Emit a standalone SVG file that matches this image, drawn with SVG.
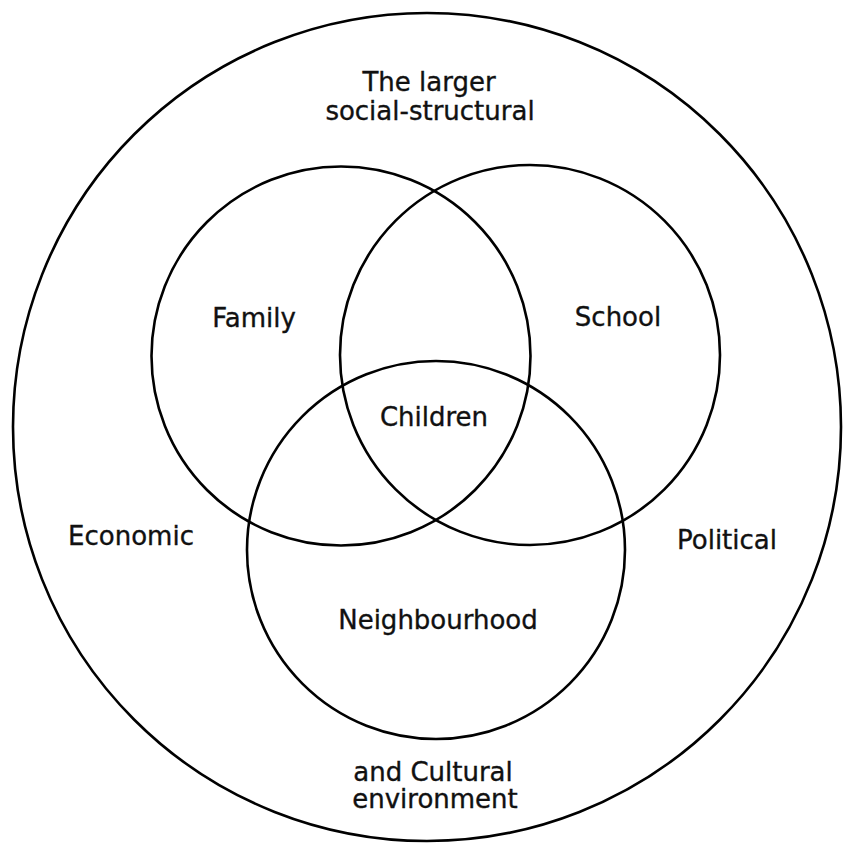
<svg xmlns="http://www.w3.org/2000/svg" width="843" height="843" viewBox="0 0 843 843">
<style>
.c{fill:none;stroke:#000;stroke-width:2.6}
.t{font-family:"DejaVu Sans",Verdana,sans-serif;font-size:26px;fill:#111;stroke:#111;stroke-width:0.35;text-anchor:middle}
</style>
<rect width="843" height="843" fill="#fff"/>
<g id="outer"><circle class="c" cx="427" cy="427" r="414"/></g>
<g id="family"><circle class="c" cx="341" cy="356" r="189.5"/><text class="t" x="254" y="327">Family</text></g>
<g id="school"><circle class="c" cx="530" cy="355" r="190"/><text class="t" x="618" y="326">School</text></g>
<g id="neighbourhood"><circle class="c" cx="436" cy="550" r="189"/><text class="t" x="438" y="629">Neighbourhood</text></g>
<g id="children"><text class="t" x="434" y="426">Children</text></g>
<g id="environment">
<text class="t" x="429" y="91">The larger</text>
<text class="t" x="430" y="120">social-structural</text>
<text class="t" x="131" y="545">Economic</text>
<text class="t" x="727" y="549">Political</text>
<text class="t" x="433" y="781">and Cultural</text>
<text class="t" x="435" y="808">environment</text>
</g>
<g id="connectors"/>
</svg>
